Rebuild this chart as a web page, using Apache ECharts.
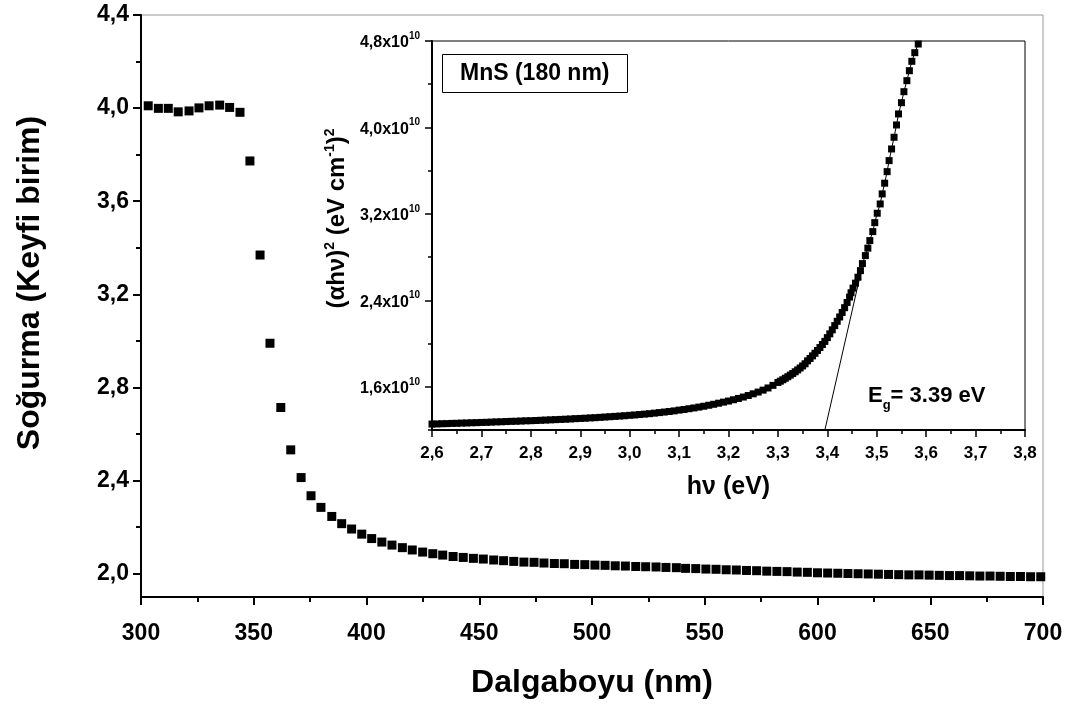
<!DOCTYPE html>
<html>
<head>
<meta charset="utf-8">
<script src="https://cdn.jsdelivr.net/npm/echarts@6/dist/echarts.min.js"></script>
<style>
html,body{margin:0;padding:0;background:#fff;}
#c{width:1076px;height:704px;}
</style>
</head>
<body>
<div id="c"></div>
<script>
// ---- main chart data: wavelength (nm) vs absorbance (arb. units)
var wavelength = [303.2,307.7,312.1,316.5,321.3,325.7,330.2,334.9,339.3,343.9,
  348.3,352.8,357.2,362.0,366.4,371.0,375.4,379.8,384.6,389.0,
  393.4,397.9,402.3,406.8,411.3,415.9,420.3,424.9,429.4,433.8,
  438.4,442.9,447.4,451.8,456.4,460.8,465.3,469.8,474.3,478.7,
  483.3,487.7,492.3,496.8,501.3,505.8,510.3,514.8,519.4,523.8,
  528.4,532.8,537.4,541.5,546.0,550.5,555.0,559.5,564.0,568.5,
  573.0,577.5,582.0,586.5,591.0,595.5,600.0,604.5,609.0,613.5,
  618.0,622.5,627.0,631.5,636.0,640.5,645.0,649.5,654.0,658.5,
  663.0,667.5,672.0,676.5,681.0,685.5,690.0,694.5,699.0];
var absorbance = [4.010,3.999,3.999,3.984,3.988,4.001,4.010,4.013,4.003,3.982,
  3.773,3.369,2.990,2.714,2.532,2.413,2.335,2.285,2.246,2.215,
  2.192,2.170,2.151,2.136,2.123,2.112,2.102,2.093,2.086,2.080,
  2.074,2.070,2.066,2.063,2.059,2.056,2.053,2.050,2.049,2.046,
  2.044,2.043,2.040,2.039,2.037,2.036,2.034,2.033,2.031,2.030,
  2.029,2.027,2.026,2.023,2.022,2.020,2.019,2.017,2.016,2.014,
  2.013,2.011,2.010,2.009,2.007,2.006,2.004,2.003,2.002,2.001,
  2.000,1.999,1.998,1.997,1.996,1.995,1.995,1.994,1.993,1.992,
  1.992,1.991,1.990,1.990,1.989,1.988,1.988,1.987,1.987];
var mainYTicks = [2.0, 2.4, 2.8, 3.2, 3.6, 4.0, 4.4];
var mainYMinorTicks = [2.2, 2.6, 3.0, 3.4, 3.8, 4.2];

// ---- inset data: photon energy (eV) vs (alpha h nu)^2 in units of 1e10
var energy = [2.60,2.61,2.62,2.63,2.64,2.65,2.66,2.67,2.68,2.69,
  2.70,2.71,2.72,2.73,2.74,2.75,2.76,2.77,2.78,2.79,
  2.80,2.81,2.82,2.83,2.84,2.85,2.86,2.87,2.88,2.89,
  2.90,2.91,2.92,2.93,2.94,2.95,2.96,2.97,2.98,2.99,
  3.00,3.01,3.02,3.03,3.04,3.05,3.06,3.07,3.08,3.09,
  3.10,3.11,3.12,3.13,3.14,3.15,3.16,3.17,3.18,3.19,
  3.20,3.21,3.22,3.23,3.24,3.25,3.26,3.27,3.28,3.29,
  3.300,3.305,3.310,3.315,3.320,3.325,3.330,3.335,3.340,3.345,
  3.350,3.355,3.360,3.365,3.370,3.375,3.380,3.385,3.390,3.395,
  3.400,3.405,3.410,3.415,3.420,3.425,3.430,3.435,3.440,3.445,
  3.448,3.452,3.457,3.462,3.467,3.471,3.477,3.482,3.486,3.492,
  3.496,3.501,3.507,3.511,3.516,3.521,3.525,3.530,3.535,3.540,
  3.544,3.550,3.555,3.561,3.566,3.571,3.577,3.584];
var ahv2 = [1.255,1.256,1.258,1.259,1.261,1.262,1.264,1.265,1.267,1.268,
  1.270,1.271,1.273,1.275,1.276,1.278,1.280,1.281,1.283,1.285,
  1.286,1.288,1.290,1.292,1.294,1.296,1.298,1.300,1.302,1.305,
  1.307,1.309,1.312,1.314,1.317,1.320,1.323,1.326,1.329,1.332,
  1.336,1.339,1.343,1.347,1.351,1.356,1.361,1.366,1.371,1.377,
  1.384,1.390,1.397,1.404,1.412,1.420,1.429,1.438,1.448,1.458,
  1.468,1.480,1.492,1.505,1.519,1.535,1.551,1.569,1.589,1.613,
  1.640,1.652,1.665,1.679,1.693,1.708,1.723,1.739,1.756,1.774,
  1.793,1.813,1.840,1.862,1.886,1.910,1.936,1.963,1.991,2.020,
  2.055,2.090,2.127,2.166,2.206,2.246,2.288,2.332,2.380,2.430,
  2.470,2.513,2.559,2.614,2.675,2.740,2.814,2.883,2.953,3.036,
  3.119,3.206,3.292,3.385,3.484,3.591,3.693,3.801,3.909,4.023,
  4.125,4.229,4.331,4.433,4.525,4.612,4.692,4.772];
var tangentE = [3.395, 3.468];
var tangentV = [1.2, 2.66];
var insetYTicks = [1.6, 2.4, 3.2, 4.0, 4.8];
var insetYMinorTicks = [1.2, 2.0, 2.8, 3.6, 4.4];

var FONT = 'Liberation Sans';
function comma(v){ return v.toFixed(1).replace('.', ','); }
function pairs(xs, ys){ return xs.map(function(x,i){ return [x, ys[i]]; }); }

var chart = echarts.init(document.getElementById('c'), null, {renderer:'canvas'});
var tickLbl = {fontFamily:FONT, fontWeight:'bold', color:'#000'};

chart.setOption({
  animation:false,
  backgroundColor:'#fff',
  title:[
    {text:'MnS (180 nm)', left:442, top:54, padding:[8,18,8,18],
     borderColor:'#000', borderWidth:1,
     textStyle:{fontFamily:FONT, fontWeight:'bold', fontSize:23, color:'#000'}},
    {text:'E{s|g}= 3.39 eV', left:868, top:380, padding:0,
     textStyle:{fontFamily:FONT, fontWeight:'bold', fontSize:22, color:'#000',
       rich:{s:{fontFamily:FONT, fontWeight:'bold', fontSize:13, verticalAlign:'bottom', lineHeight:32}}}}
  ],
  grid:[
    {left:141, right:33, top:15, bottom:106, show:true, borderColor:'#999', borderWidth:1},
    {left:432, right:51, top:41, bottom:274, show:true, borderColor:'#000', borderWidth:1, backgroundColor:'#fff', z:3}
  ],
  xAxis:[
    {gridIndex:0, type:'value', min:300, max:700, interval:50,
     name:'Dalgaboyu (nm)', nameLocation:'middle', nameGap:70,
     nameTextStyle:{fontFamily:FONT, fontWeight:'bold', fontSize:32, color:'#000'},
     axisLine:{lineStyle:{color:'#000', width:2}},
     axisTick:{show:true, inside:false, length:8, lineStyle:{color:'#000', width:2}},
     minorTick:{show:true, splitNumber:2, length:5, lineStyle:{color:'#000', width:2}},
     axisLabel:Object.assign({fontSize:23, margin:25}, tickLbl),
     splitLine:{show:false}},
    {gridIndex:1, type:'value', min:2.6, max:3.8, interval:0.1,
     name:'h\u03bd (eV)', nameLocation:'middle', nameGap:45,
     nameTextStyle:{fontFamily:FONT, fontWeight:'bold', fontSize:25, color:'#000'},
     axisLine:{lineStyle:{color:'#000', width:2}},
     axisTick:{show:true, length:7, lineStyle:{color:'#000', width:1.5}},
     minorTick:{show:true, splitNumber:2, length:4, lineStyle:{color:'#000', width:1.5}},
     axisLabel:Object.assign({fontSize:17, margin:15, formatter:function(v){return comma(v);}}, tickLbl),
     splitLine:{show:false}, z:5}
  ],
  yAxis:[
    {gridIndex:0, type:'value', position:'left', min:1.9, max:4.4,
     name:'So\u011furma (Keyfi birim)', nameLocation:'middle', nameGap:95,
     nameTextStyle:{fontFamily:FONT, fontWeight:'bold', fontSize:32, color:'#000', padding:[0,0,0,46]},
     axisLine:{lineStyle:{color:'#000', width:2}},
     axisTick:{show:true, length:8, customValues:mainYTicks, lineStyle:{color:'#000', width:2}},
     axisLabel:Object.assign({fontSize:23, margin:12, customValues:mainYTicks, formatter:function(v){return comma(v);}}, tickLbl),
     splitLine:{show:false}},
    {gridIndex:0, type:'value', position:'left', min:1.9, max:4.4,
     axisLine:{show:false},
     axisTick:{show:true, length:5, customValues:mainYMinorTicks, lineStyle:{color:'#000', width:2}},
     axisLabel:{show:false}, splitLine:{show:false}},
    {gridIndex:1, type:'value', position:'left', min:1.2, max:4.8,
     name:'(\u03b1h\u03bd){s|2} (eV cm{s|-1}){s|2}', nameLocation:'middle', nameGap:73,
     nameTextStyle:{fontFamily:FONT, fontWeight:'bold', fontSize:24, color:'#000', padding:[0,0,0,34],
       rich:{s:{fontFamily:FONT, fontWeight:'bold', fontSize:14, color:'#000', verticalAlign:'top', lineHeight:28}}},
     axisLine:{lineStyle:{color:'#000', width:2}},
     axisTick:{show:true, length:7, customValues:insetYTicks, lineStyle:{color:'#000', width:1.5}},
     axisLabel:{customValues:insetYTicks, margin:12, color:'#000',
       formatter:function(v){ return '{a|' + comma(v) + 'x10}{b|10}'; },
       rich:{a:{fontFamily:FONT, fontWeight:'bold', fontSize:16, color:'#000', lineHeight:20, verticalAlign:'bottom'},
             b:{fontFamily:FONT, fontWeight:'bold', fontSize:10, color:'#000', lineHeight:20, verticalAlign:'top'}}},
     splitLine:{show:false}, z:5},
    {gridIndex:1, type:'value', position:'left', min:1.2, max:4.8,
     axisLine:{show:false},
     axisTick:{show:true, length:4, customValues:insetYMinorTicks, lineStyle:{color:'#000', width:1.5}},
     axisLabel:{show:false}, splitLine:{show:false}, z:5}
  ],
  series:[
    {type:'scatter', xAxisIndex:0, yAxisIndex:0, data:pairs(wavelength, absorbance),
     symbol:'rect', symbolSize:9, itemStyle:{color:'#000', opacity:1}, z:2},
    {type:'line', xAxisIndex:1, yAxisIndex:2, data:pairs(energy, ahv2),
     symbol:'rect', symbolSize:7, showSymbol:true, showAllSymbol:true,
     lineStyle:{color:'#000', width:1}, itemStyle:{color:'#000', opacity:1}, z:6},
    {type:'line', xAxisIndex:1, yAxisIndex:2, data:pairs(tangentE, tangentV),
     symbol:'none', lineStyle:{color:'#000', width:1}, z:6}
  ]
});
</script>
</body>
</html>
